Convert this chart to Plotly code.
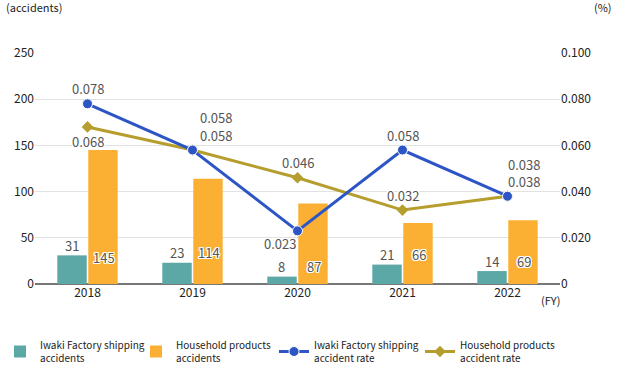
import plotly.graph_objects as go

years = ["2018", "2019", "2020", "2021", "2022"]
iwaki_acc = [31, 23, 8, 21, 14]
house_acc = [145, 114, 87, 66, 69]
iwaki_rate = [0.078, 0.058, 0.023, 0.058, 0.038]
house_rate = [0.068, 0.058, 0.046, 0.032, 0.038]
left_ticks = [0, 50, 100, 150, 200, 250]
right_ticks = [0, 0.02, 0.04, 0.06, 0.08, 0.10]
right_ticktext = ["0", "0.020", "0.040", "0.060", "0.080", "0.100"]

TEAL = "#5ba8a7"
ORANGE = "#fbb034"
BLUE = "#2d55c6"
GOLD = "#b59d2e"
FONT = "Noto Sans CJK JP"
halo = "1px 1px 0 #fff, -1px -1px 0 #fff, 1px -1px 0 #fff, -1px 1px 0 #fff, 0 1px 0 #fff, 0 -1px 0 #fff, 1px 0 0 #fff, -1px 0 0 #fff"

fig = go.Figure()
fig.add_trace(go.Bar(x=years, y=iwaki_acc, name="Iwaki Factory shipping<br>accidents", legend="legend",
                     marker=dict(color=TEAL, line=dict(width=0))))
fig.add_trace(go.Bar(x=years, y=house_acc, name="Household products<br>accidents", legend="legend2",
                     marker=dict(color=ORANGE, line=dict(width=0))))
fig.add_trace(go.Scatter(x=years, y=house_rate, yaxis="y2", mode="lines+markers", legend="legend4",
                         name="Household products<br>accident rate",
                         line=dict(color=GOLD, width=3),
                         marker=dict(symbol="diamond", size=9, color=GOLD)))
fig.add_trace(go.Scatter(x=years, y=iwaki_rate, yaxis="y2", mode="lines+markers", legend="legend3",
                         name="Iwaki Factory shipping<br>accident rate",
                         line=dict(color=BLUE, width=3),
                         marker=dict(symbol="circle", size=10, color=BLUE, line=dict(color="white", width=1))))

lab_font = dict(family=FONT, size=13, color="#555555", shadow=halo)
ann = []
for i, y in enumerate(years):
    ann.append(dict(x=i, y=iwaki_acc[i], yref="y", text=str(iwaki_acc[i]), showarrow=False,
                    xshift=-16, yshift=10, font=lab_font))
    ann.append(dict(x=i, y=iwaki_acc[i], yref="y", text=str(house_acc[i]), showarrow=False,
                    xshift=16, yshift=(-2 if i == 0 else 10), font=lab_font))
blue_shift = [(0, 15), (23, 15), (-18, -13), (0, 15), (16, 15)]
gold_shift = [(0, -15), (23, 33), (0, 15), (0, 15), (16, 32)]
for i, y in enumerate(years):
    ann.append(dict(x=i, y=iwaki_rate[i], yref="y2", text=f"{iwaki_rate[i]:.3f}", showarrow=False,
                    xshift=blue_shift[i][0], yshift=blue_shift[i][1], font=lab_font))
    ann.append(dict(x=i, y=house_rate[i], yref="y2", text=f"{house_rate[i]:.3f}", showarrow=False,
                    xshift=gold_shift[i][0], yshift=gold_shift[i][1], font=lab_font))
unit_font = dict(family=FONT, size=11, color="#222222")
ann.append(dict(xref="paper", yref="paper", x=0, y=1, xanchor="left", yanchor="bottom",
                xshift=-31, yshift=36, text="(accidents)", showarrow=False, font=unit_font))
ann.append(dict(xref="paper", yref="paper", x=1, y=1, xanchor="left", yanchor="bottom",
                xshift=32, yshift=36, text="(%)", showarrow=False, font=unit_font))
ann.append(dict(xref="paper", yref="paper", x=1, y=0, xanchor="right", yanchor="top",
                xshift=2, yshift=-6, text="(FY)", showarrow=False, font=unit_font))

def leg(xpx):
    return dict(orientation="h", xref="container", yref="container", x=xpx / 624, y=0.05,
                xanchor="left", yanchor="middle", font=dict(family=FONT, size=10, color="#222222"),
                itemwidth=30, bgcolor="rgba(0,0,0,0)")

fig.update_layout(
    width=624, height=370,
    margin=dict(l=35, r=64, t=53, b=86, autoexpand=False),
    paper_bgcolor="white", plot_bgcolor="white",
    barmode="group", bargap=0.41, bargroupgap=0.05,
    font=dict(family=FONT, size=12, color="#222222"),
    showlegend=True,
    legend=leg(-3), legend2=leg(136), legend3=leg(274), legend4=leg(420),
    xaxis=dict(type="category", showgrid=False, ticks="", showline=False, zeroline=False,
               tickfont=dict(size=12)),
    yaxis=dict(range=[0, 250], tickvals=left_ticks, showgrid=True, gridcolor="#e2e2e2",
               zeroline=True, zerolinecolor="#777777", zerolinewidth=2, ticks="", tickfont=dict(size=12)),
    yaxis2=dict(range=[0, 0.10], tickvals=right_ticks, ticktext=right_ticktext, overlaying="y", side="right",
                showgrid=False, zeroline=False, ticks="", tickfont=dict(size=12)),
    annotations=ann,
)
fig.write_html("out.html")
